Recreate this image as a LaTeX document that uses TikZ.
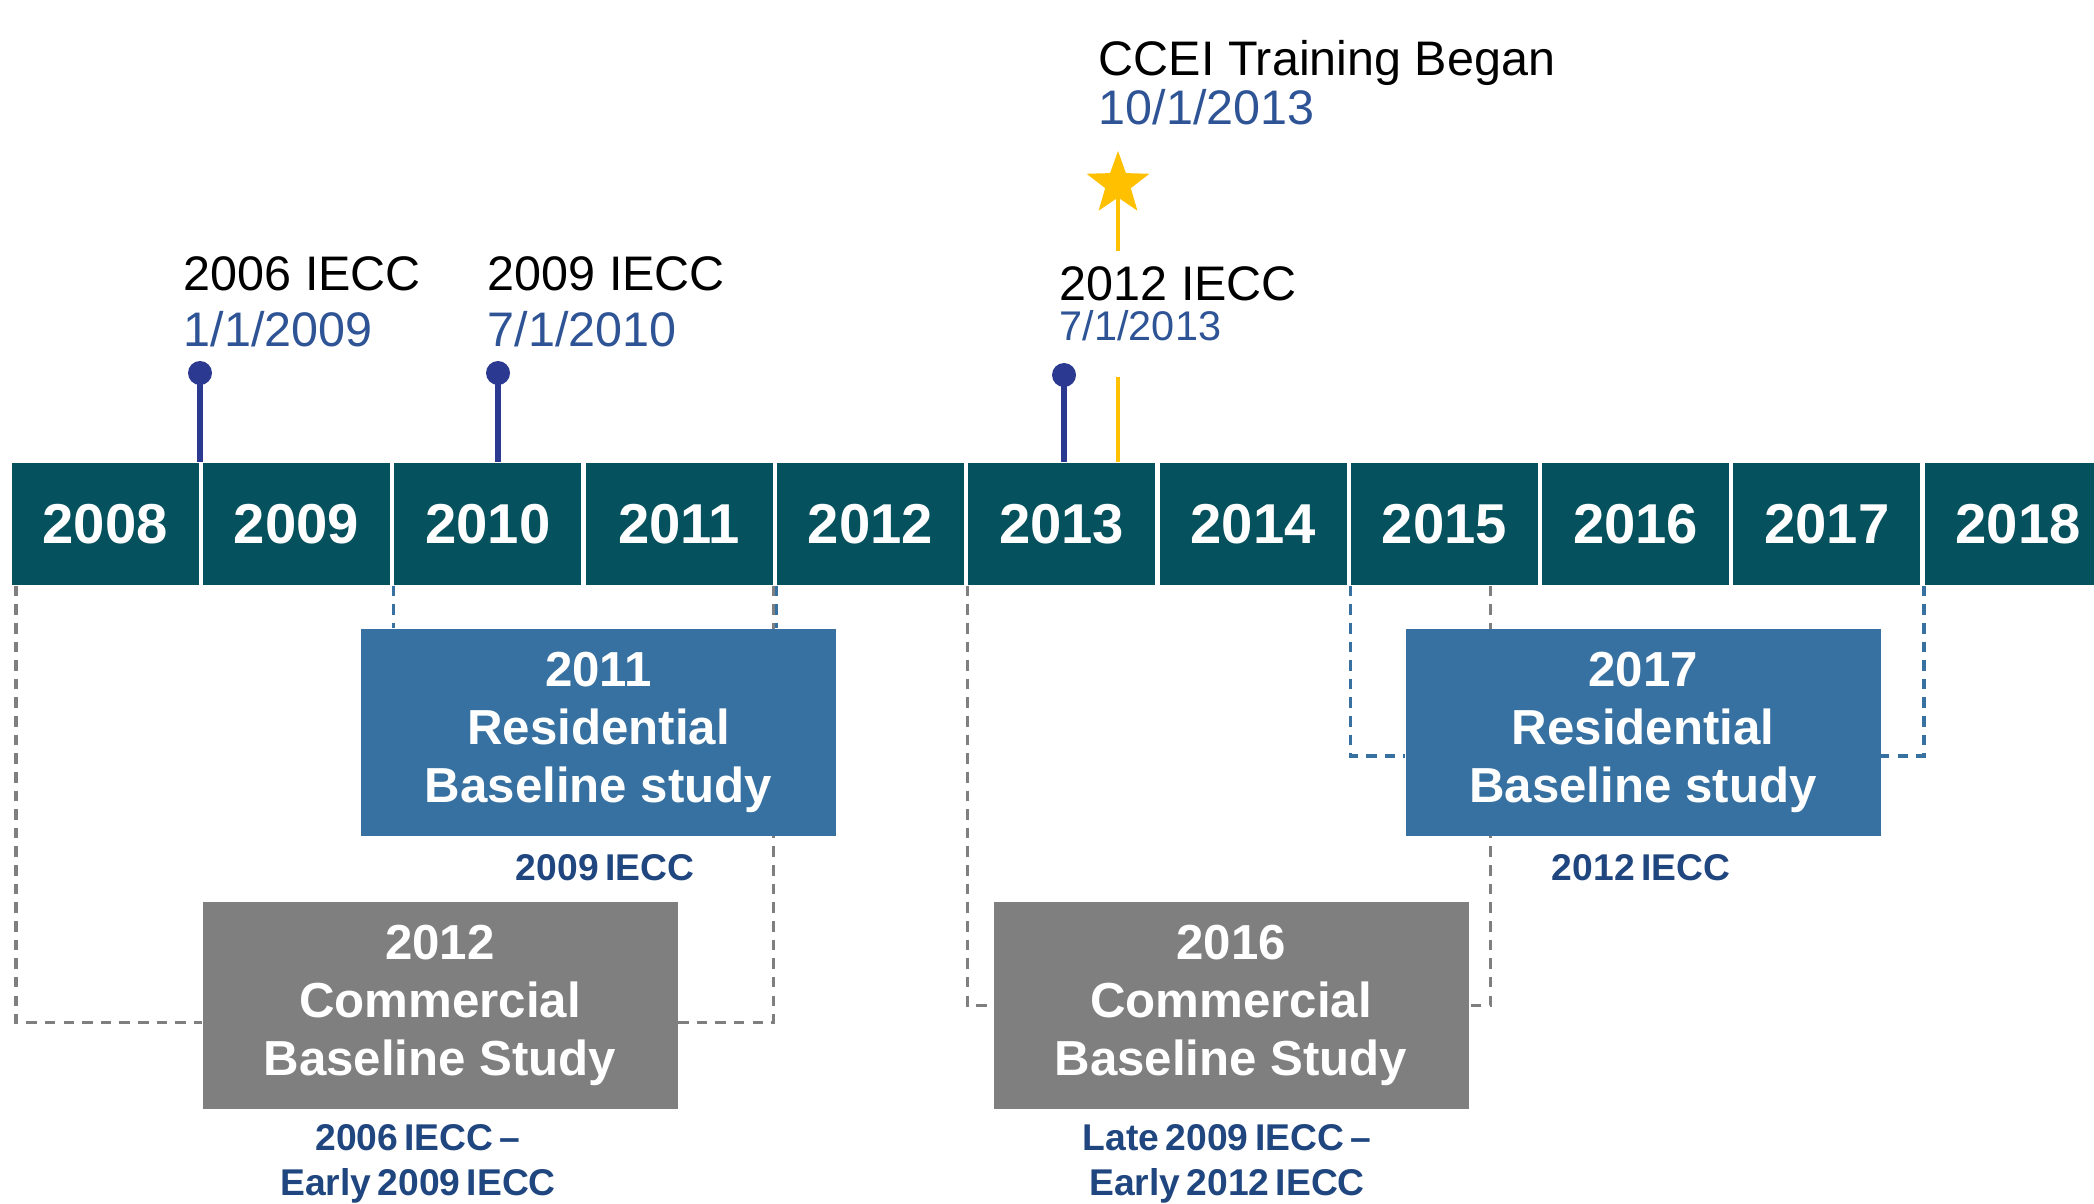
\documentclass[tikz,border=0pt]{standalone}
\usepackage{fontspec}
\setmainfont{Liberation Sans}
\usetikzlibrary{shapes.geometric,backgrounds}
\definecolor{barteal}{RGB}{5,81,93}
\definecolor{resblue}{RGB}{54,113,161}
\definecolor{comgray}{RGB}{127,127,127}
\definecolor{pinnavy}{RGB}{43,57,144}
\definecolor{dateblue}{RGB}{46,84,150}
\definecolor{codenavy}{RGB}{32,70,128}
\definecolor{ccyellow}{RGB}{255,192,0}
\newcommand\tightspaces{\spaceskip=0.17em plus 0.05em\relax}

\tikzset{
  yearcell/.style={fill=barteal, text=white, anchor=west, inner sep=0pt,
    minimum width=1.87cm, minimum height=1.22cm,
    font=\fontsize{16}{19}\selectfont\bfseries},
  studybox/.style={text=white, align=center, inner sep=0pt,
    minimum width=4.75cm, minimum height=2.07cm,
    font=\fontsize{14}{16.4}\selectfont\bfseries},
  codenote/.style={text=codenavy, align=center, inner sep=0pt,
    font=\fontsize{10.6}{12.9}\selectfont\bfseries,
    execute at begin node=\tightspaces},
  codename/.style={anchor=west, inner sep=0pt, font=\fontsize{13.8}{16}\selectfont},
  codedate/.style={anchor=west, inner sep=0pt, text=dateblue, font=\fontsize{13.8}{16}\selectfont},
  pinhead/.style={circle, fill=pinnavy, inner sep=0pt, minimum size=0.24cm},
  pinline/.style={draw=pinnavy, line width=1.5pt},
  ccstar/.style={star, star points=5, star point ratio=2.45, fill=ccyellow,
    inner sep=0pt, minimum size=0.66cm},
  ccline/.style={draw=ccyellow, line width=1.3pt},
  comdash/.style={draw=comgray, line width=0.9pt, dash pattern=on 3pt off 2.3pt},
  resdash/.style={draw=resblue, line width=0.9pt, dash pattern=on 3pt off 2.3pt},
}

\begin{document}
\begin{tikzpicture}
  \useasboundingbox (0,0) rectangle (20.94,12.03);
  \clip (0,0) rectangle (20.94,12.03);

  % year bar
  \foreach \yr [count=\i from 0] in {2008,...,2018}
    \node[yearcell] (y\yr) at ({0.11+\i*1.913}, 6.79) {\yr};

  % code adoption pins
  \node[pinhead] (pin06) at (2.00, 8.30) {};
  \node[pinhead] (pin09) at (4.98, 8.30) {};
  \node[pinhead] (pin12) at (10.64, 8.28) {};
  \draw[pinline] (pin06.center) -- (pin06 |- y2009.north);
  \draw[pinline] (pin09.center) -- (pin09 |- y2010.north);
  \draw[pinline] (pin12.center) -- (pin12 |- y2013.north);

  \node[codename] (lab06) at (1.83, 9.29) {2006 IECC};
  \node[codedate] (date06) at (1.83, 8.74) {1/1/2009};
  \node[codename] (lab09) at (4.87, 9.29) {2009 IECC};
  \node[codedate] (date09) at (4.87, 8.74) {7/1/2010};
  \node[codename] (lab12) at (10.59, 9.19) {2012 IECC};
  \node[codedate, font=\fontsize{11.8}{14}\selectfont] (date12) at (10.59, 8.77) {7/1/2013};

  % CCEI training start
  \coordinate (ccgap) at (11.18, 9.52);
  \coordinate (cclow) at (11.18, 8.26);
  \draw[ccline] (11.18, 10.19) -- (ccgap);
  \node[ccstar] (ccstar) at (11.18, 10.19) {};
  \draw[ccline] (cclow) -- (cclow |- y2013.north);
  \node[codename] (labcc) at (10.98, 11.40) {CCEI Training Began};
  \node[codedate] (datecc) at (10.98, 10.96) {10/1/2013};

  % study periods
  \node[studybox, fill=resblue] (res11) at (5.985, 4.705) {2011\\Residential\\Baseline study};
  \node[studybox, fill=comgray] (com12) at (4.40, 1.975) {2012\\Commercial\\Baseline Study};
  \node[studybox, fill=comgray] (com16) at (12.31, 1.975) {2016\\Commercial\\Baseline Study};
  \node[studybox, fill=resblue] (res17) at (16.43, 4.705) {2017\\Residential\\Baseline study};

  % years each study covered
  \begin{pgfonlayer}{background}
    \draw[comdash] ([xshift=0.05cm]y2008.south west) |- ([yshift=-0.17cm]com12.west);
    \draw[comdash] (y2011.south east) |- ([yshift=-0.17cm]com12.east);
    \draw[resdash] (y2010.south west) -- (y2010.south west |- res11.north);
    \draw[resdash] (y2012.south west) -- (y2012.south west |- res11.north);
    \draw[comdash] (y2013.south west) |- (com16.west);
    \draw[comdash] ([xshift=1.4cm]y2015.south west) |- (com16.east);
    \draw[resdash] (y2015.south west) |- ([yshift=-0.235cm]res17.west);
    \draw[resdash] (y2018.south west) |- ([yshift=-0.235cm]res17.east);
  \end{pgfonlayer}

  % codes each study looked at
  \node[codenote] (note11) at (6.05, 3.35) {2009 IECC};
  \node[codenote] (note17) at (16.41, 3.35) {2012 IECC};
  \node[codenote] (note12) at (4.18, 0.39) {2006 IECC --\\Early 2009 IECC};
  \node[codenote] (note16) at (12.27, 0.39) {Late 2009 IECC --\\Early 2012 IECC};
\end{tikzpicture}
\end{document}
